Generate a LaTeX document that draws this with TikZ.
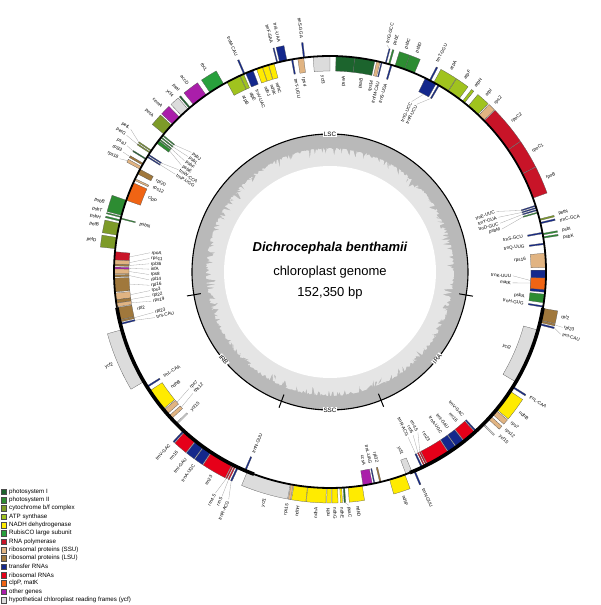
\documentclass[tikz,border=0pt]{standalone}
\usepackage{fontspec}
\setmainfont{Liberation Sans}

\definecolor{cPSI}{RGB}{28,100,45}
\definecolor{cPSII}{RGB}{45,140,50}
\definecolor{cCYT}{RGB}{125,155,40}
\definecolor{cATP}{RGB}{160,195,30}
\definecolor{cNDH}{RGB}{255,235,0}
\definecolor{cRBC}{RGB}{40,160,60}
\definecolor{cRPO}{RGB}{200,20,40}
\definecolor{cSSU}{RGB}{225,180,130}
\definecolor{cLSU}{RGB}{160,120,60}
\definecolor{cTRN}{RGB}{20,40,140}
\definecolor{cRRN}{RGB}{230,0,25}
\definecolor{cCLP}{RGB}{240,100,20}
\definecolor{cOTH}{RGB}{170,30,170}
\definecolor{cYCF}{RGB}{220,220,220}

\newcounter{lab}
% gene outside the ring: [label radius]{from}{to}{colour}{name}{label angle}
\newcommand\geneout[6][235]{%
  \fill[fill=#4, draw=black!65, line width=.25pt]
    (#2:216) arc[start angle=#2, end angle=#3, radius=216pt]
    -- (#3:231) arc[start angle=#3, end angle=#2, radius=231pt] -- cycle;
  \pgfmathtruncatemacro\needlead{(abs(#6-(#2+#3)/2)>0.8) || (#1>236)}%
  \ifnum\needlead=1 \draw[lead] ({(#2+#3)/2}:231) -- (#6:{#1-1});\fi
  \stepcounter{lab}%
  \pgfmathtruncatemacro\lefthalf{cos(#6)<0}%
  \ifnum\lefthalf=1
    \node[glab, anchor=east, rotate=#6+180] (lab\arabic{lab}) at (#6:#1) {#5};
  \else
    \node[glab, anchor=west, rotate=#6] (lab\arabic{lab}) at (#6:#1) {#5};
  \fi}
% gene inside the ring
\newcommand\genein[6][197]{%
  \fill[fill=#4, draw=black!65, line width=.25pt]
    (#2:201) arc[start angle=#2, end angle=#3, radius=201pt]
    -- (#3:216) arc[start angle=#3, end angle=#2, radius=216pt] -- cycle;
  \pgfmathtruncatemacro\needlead{(abs(#6-(#2+#3)/2)>0.8) || (#1<196)}%
  \ifnum\needlead=1 \draw[lead] ({(#2+#3)/2}:201) -- (#6:{#1+1});\fi
  \stepcounter{lab}%
  \pgfmathtruncatemacro\lefthalf{cos(#6)<0}%
  \ifnum\lefthalf=1
    \node[glab, anchor=west, rotate=#6+180] (lab\arabic{lab}) at (#6:#1) {#5};
  \else
    \node[glab, anchor=east, rotate=#6] (lab\arabic{lab}) at (#6:#1) {#5};
  \fi}

\begin{document}
\begin{tikzpicture}[
    x=1pt, y=1pt,
    glab/.style={font=\fontsize{4.6}{5}\selectfont, inner sep=.6pt},
    lead/.style={draw=gray!70, line width=.3pt},
    ring/.style={fill=white, inner sep=.8pt, font=\fontsize{6.3}{7}\selectfont},
    title/.style={font=\fontsize{13}{15}\selectfont},
    legtext/.style={font=\fontsize{6.2}{7}\selectfont, inner sep=0pt, anchor=west}
]
\useasboundingbox (-330,-333) rectangle (270,272);

% --- GC ring ---
\fill[gray!55] (0,0) circle[radius=138pt];
\pgfmathsetseed{11}
\fill[gray!20] plot[domain=0:359.5, samples=720] (\x:{124-10*pow(rnd,4)}) -- cycle;
\fill[white] (0,0) circle[radius=106pt];
\draw[line width=1.1pt] (0,0) circle[radius=138pt];
\foreach \a in {189.5, 249.4, 291.7, 350.4}
  \draw[line width=1pt] (\a:131) -- (\a:145);
\node[ring] (lsc) at (90:138) {LSC};
\node[ring, rotate=309.5] (irb) at (219.5:138) {IRB};
\node[ring] (ssc) at (270:138) {SSC};
\node[ring, rotate=51] (ira) at (321:138) {IRA};

% --- centre ---
\node[title, font=\fontsize{13}{15}\selectfont\bfseries\itshape] (name) at (0,24) {Dichrocephala benthamii};
\node[title] (kind) at (0,0) {chloroplast genome};
\node[title] (size) at (0,-21) {152,350 bp};

% --- LSC ---
\genein{350.6}{351.0}{cTRN}{trnH-GUG}{350.8}
\genein{351.8}{354.1}{cPSII}{psbA}{352.9}
\genein[182]{354.6}{360.5}{cTRN}{trnK-UUU}{358.8}
\genein[182]{355.3}{358.4}{cCLP}{matK}{356.6}
\genein{1.2}{5.0}{cSSU}{rps16}{3.6}
\genein{7.3}{7.7}{cTRN}{trnQ-UUG}{7.5}
\genein{10.2}{10.6}{cTRN}{trnS-GCU}{10.4}
\geneout{9.0}{9.4}{cPSII}{psbK}{8.4}
\geneout{9.9}{10.3}{cPSII}{psbI}{10.1}
\geneout{12.9}{13.3}{cTRN}{trnC-GCA}{12.6}
\geneout{13.8}{14.2}{cCYT}{petN}{14.3}
\genein[176]{15.8}{16.1}{cPSII}{psbM}{14.0}
\genein[176]{16.5}{16.8}{cTRN}{trnD-GUC}{16.0}
\genein[176]{17.1}{17.4}{cTRN}{trnY-GUA}{18.0}
\genein[176]{17.7}{18.0}{cTRN}{trnE-UUC}{20.0}
\geneout{20.0}{27.0}{cRPO}{rpoB}{23.5}
\geneout{27.1}{34.4}{cRPO}{rpoC1}{30.8}
\geneout{34.5}{44.4}{cRPO}{rpoC2}{39.5}
\geneout{44.6}{46.5}{cSSU}{rps2}{45.6}
\geneout{46.8}{50.2}{cATP}{atpI}{48.5}
\geneout{51.5}{52.2}{cATP}{atpH}{51.9}
\geneout{53.3}{56.8}{cATP}{atpF}{55.1}
\geneout{56.9}{61.3}{cATP}{atpA}{59.1}
\genein[188]{59.6}{60.0}{cTRN}{trnR-UCU}{62.6}
\genein[188]{60.6}{63.8}{cTRN}{trnG-UCC}{64.4}
\geneout{62.2}{62.6}{cTRN}{trnT-GGU}{63.0}
\geneout{67.0}{69.8}{cPSII}{psbD}{68.4}
\geneout{69.8}{72.5}{cPSII}{psbC}{71.2}
\genein{73.3}{73.7}{cTRN}{trnS-UGA}{73.5}
\geneout{73.9}{74.3}{cPSII}{psbZ}{74.1}
\geneout{74.9}{75.2}{cTRN}{trnG-GCC}{75.9}
\genein{76.0}{76.3}{cTRN}{trnfM-CAU}{75.8}
\genein{76.6}{77.5}{cSSU}{rps14}{77.6}
\genein{78.0}{83.4}{cPSI}{psaB}{80.7}
\genein{83.4}{88.4}{cPSI}{psaA}{85.9}
\genein{90.0}{94.5}{cYCF}{ycf3}{92.2}
\geneout{96.7}{97.1}{cTRN}{trnS-GGA}{96.9}
\genein{97.0}{98.6}{cSSU}{rps4}{97.8}
\genein{99.9}{100.3}{cTRN}{trnT-UGU}{100.1}
\geneout{101.5}{103.5}{cTRN}{trnL-UAA}{102.5}
\geneout{104.0}{104.3}{cTRN}{trnF-GAA}{104.3}
\genein{105.0}{106.5}{cNDH}{ndhC}{105.6}
\genein{106.6}{108.2}{cNDH}{ndhK}{107.3}
\genein{108.3}{109.9}{cNDH}{ndhJ}{109.1}
\genein{110.9}{113.0}{cTRN}{trnV-UAC}{111.9}
\geneout{113.2}{113.6}{cTRN}{trnM-CAU}{113.4}
\genein{113.6}{114.6}{cATP}{atpE}{113.9}
\genein{114.7}{118.5}{cATP}{atpB}{116.3}
\geneout{119.5}{123.8}{cRBC}{rbcL}{121.6}
\geneout{125.0}{129.2}{cOTH}{accD}{127.1}
\geneout{130.3}{130.7}{cPSI}{psaI}{129.9}
\geneout{131.1}{133.5}{cYCF}{ycf4}{131.9}
\geneout{134.2}{136.8}{cOTH}{cemA}{135.5}
\geneout{137.2}{140.3}{cCYT}{petA}{138.7}
\genein[182]{140.6}{140.9}{cPSII}{psbJ}{139.2}
\genein[182]{141.3}{141.6}{cPSII}{psbL}{140.9}
\genein[182]{142.0}{142.3}{cPSII}{psbF}{142.6}
\genein[182]{142.5}{143.4}{cPSII}{psbE}{144.3}
\geneout[246]{145.7}{146.0}{cCYT}{petL}{144.4}
\geneout[246]{146.3}{146.6}{cCYT}{petG}{146.1}
\genein[182]{147.0}{147.3}{cTRN}{trnW-CCA}{146.0}
\genein[182]{147.6}{147.9}{cTRN}{trnP-UGG}{147.7}
\geneout[240]{148.3}{148.6}{cPSI}{psaJ}{148.1}
\geneout[240]{149.8}{150.3}{cLSU}{rpl33}{149.9}
\geneout[240]{150.8}{151.6}{cSSU}{rps18}{151.7}
\genein{151.6}{153.0}{cLSU}{rpl20}{152.3}
\genein{154.4}{154.9}{cSSU}{rps12}{154.4}
\genein{155.6}{160.6}{cCLP}{clpP}{157.8}
\geneout{160.6}{164.8}{cPSII}{psbB}{162.9}
\geneout{165.1}{165.4}{cPSII}{psbT}{165.0}
\geneout{166.0}{166.4}{cPSII}{psbH}{166.7}
\genein{165.5}{165.8}{cPSII}{psbN}{165.9}
\geneout{167.0}{170.2}{cCYT}{petB}{168.6}
\geneout{170.8}{173.8}{cCYT}{petD}{172.3}
\genein[180]{174.6}{176.8}{cRPO}{rpoA}{173.9}
\genein[180]{176.8}{177.9}{cSSU}{rps11}{175.7}
\genein[180]{177.9}{178.4}{cLSU}{rpl36}{177.4}
\genein[180]{178.7}{179.2}{cOTH}{infA}{179.1}
\genein[180]{179.2}{180.5}{cSSU}{rps8}{180.8}
\genein[180]{180.7}{181.3}{cLSU}{rpl14}{182.5}
\genein[180]{181.6}{185.3}{cLSU}{rpl16}{184.2}
\genein[180]{185.6}{187.4}{cSSU}{rps3}{185.9}
\genein[180]{187.4}{188.3}{cLSU}{rpl22}{187.6}
\genein[180]{188.3}{189.3}{cSSU}{rps19}{189.3}
\genein{189.5}{192.8}{cLSU}{rpl2}{190.9}
\genein[180]{192.9}{193.4}{cLSU}{rpl23}{192.9}
\genein[180]{193.7}{194.1}{cTRN}{trnI-CAU}{194.6}

% --- IRB ---
\geneout{195.5}{210.5}{cYCF}{ycf2}{203.0}
\genein{211.9}{212.3}{cTRN}{trnL-CAA}{212.1}
\genein{213.4}{219.4}{cNDH}{ndhB}{216.0}
\genein[182]{219.7}{221.1}{cSSU}{rps7}{219.6}
\genein[182]{221.8}{222.8}{cSSU}{rps12}{221.5}
\genein{224.5}{224.9}{cYCF}{ycf15}{225.0}
\geneout{227.2}{227.6}{cTRN}{trnV-GAC}{227.2}
\geneout{227.8}{231.4}{cRRN}{rrn16}{229.6}
\geneout{231.6}{234.0}{cTRN}{trnI-GAU}{232.3}
\geneout{234.2}{236.5}{cTRN}{trnA-UGC}{234.8}
\geneout{236.7}{243.0}{cRRN}{rrn23}{239.8}
\geneout[250]{243.2}{243.5}{cRRN}{rrn4.5}{242.6}
\geneout[250]{243.8}{244.1}{cRRN}{rrn5}{244.3}
\geneout[250]{244.5}{244.9}{cTRN}{trnR-ACG}{246.0}
\genein{246.7}{247.1}{cTRN}{trnN-GUU}{247.0}
\geneout{247.5}{259.4}{cYCF}{ycf1}{254.0}

% --- SSC ---
\geneout{259.6}{260.2}{cSSU}{rps15}{259.6}
\geneout{260.4}{264.0}{cNDH}{ndhH}{262.2}
\geneout{264.1}{269.0}{cNDH}{ndhA}{266.6}
\geneout{269.2}{270.3}{cNDH}{ndhI}{269.5}
\geneout{270.5}{272.0}{cNDH}{ndhG}{271.2}
\geneout{272.6}{273.1}{cNDH}{ndhE}{272.9}
\geneout{273.5}{273.9}{cPSI}{psaC}{274.6}
\geneout{274.8}{278.6}{cNDH}{ndhD}{276.8}
\genein{278.8}{281.3}{cOTH}{ccsA}{280.0}
\genein{281.7}{282.0}{cTRN}{trnL-UAG}{281.9}
\genein{283.3}{283.7}{cLSU}{rpl32}{283.8}
\geneout{286.0}{290.3}{cNDH}{ndhF}{288.2}
\genein{290.6}{292.3}{cYCF}{ycf1}{291.5}

% --- IRA ---
\geneout{292.8}{293.2}{cTRN}{trnN-GUU}{293.3}
\genein[182]{295.0}{295.4}{cTRN}{trnR-ACG}{295.3}
\genein[182]{295.8}{296.1}{cRRN}{rrn5}{297.0}
\genein[182]{296.4}{296.7}{cRRN}{rrn4.5}{298.7}
\genein{296.9}{303.2}{cRRN}{rrn23}{300.3}
\genein{303.4}{305.7}{cTRN}{trnA-UGC}{304.6}
\genein{305.9}{308.3}{cTRN}{trnI-GAU}{307.0}
\genein{308.5}{312.1}{cRRN}{rrn16}{310.3}
\genein{312.3}{312.7}{cTRN}{trnV-GAC}{312.7}
\geneout{315.0}{315.4}{cYCF}{ycf15}{316.0}
\geneout{317.1}{318.1}{cSSU}{rps12}{318.1}
\geneout{318.8}{320.2}{cSSU}{rps7}{320.2}
\geneout{320.5}{326.5}{cNDH}{ndhB}{323.5}
\geneout{327.6}{328.0}{cTRN}{trnL-CAA}{328.0}
\genein{329.4}{344.4}{cYCF}{ycf2}{337.0}
\geneout[240]{345.8}{346.2}{cTRN}{trnI-CAU}{344.9}
\geneout[240]{346.5}{347.0}{cLSU}{rpl23}{346.6}
\geneout{347.1}{350.3}{cLSU}{rpl2}{349.0}

% --- genome ring: thin for LSC and SSC, thick for the repeats ---
\draw[line width=1.8pt] (-9.6:216) arc[start angle=-9.6, end angle=189.5, radius=216pt];
\draw[line width=3.6pt] (189.5:216) arc[start angle=189.5, end angle=249.4, radius=216pt];
\draw[line width=1.8pt] (249.4:216) arc[start angle=249.4, end angle=291.7, radius=216pt];
\draw[line width=3.6pt] (291.7:216) arc[start angle=291.7, end angle=350.4, radius=216pt];

% --- legend ---
\foreach \c/\t [count=\i from 0] in {cPSI/{photosystem I}, cPSII/{photosystem II},
    cCYT/{cytochrome b/f complex}, cATP/{ATP synthase}, cNDH/{NADH dehydrogenase},
    cRBC/{RubisCO large subunit}, cRPO/{RNA polymerase}, cSSU/{ribosomal proteins (SSU)},
    cLSU/{ribosomal proteins (LSU)}, cTRN/{transfer RNAs}, cRRN/{ribosomal RNAs},
    cCLP/{clpP, matK}, cOTH/{other genes},
    cYCF/{hypothetical chloroplast reading frames (ycf)}} {
  \filldraw[fill=\c, draw=black!70, line width=.3pt]
    (-329,{-219.7-8.33*\i-2.8}) rectangle (-323.4,{-219.7-8.33*\i+2.8});
  \node[legtext] (leg\i) at (-321,{-219.7-8.33*\i}) {\t};
}
\end{tikzpicture}
\end{document}
